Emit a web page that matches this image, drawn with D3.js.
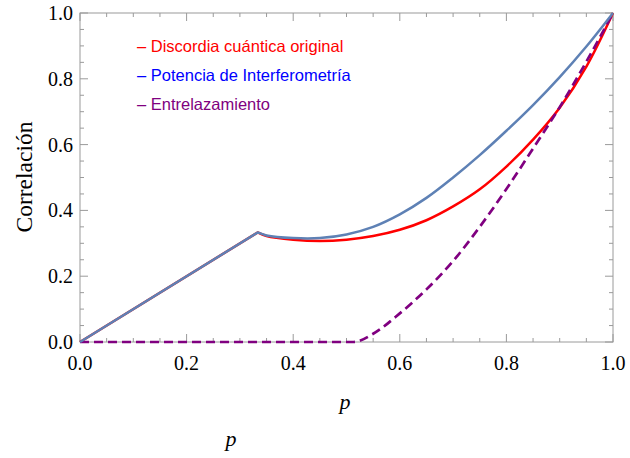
<!DOCTYPE html>
<html>
<head>
<meta charset="utf-8">
<script src="https://cdn.jsdelivr.net/npm/d3@7"></script>
<style>
body { margin: 0; background: #fff; }
</style>
</head>
<body>
<script>
// values
// the first two points (0 and 1/3) are the straight part, the rest the curve after the kink
const pVals = [0, 1/3, 0.35, 0.40, 0.45, 0.50, 0.55, 0.60, 0.65, 0.70, 0.75, 0.80, 0.85, 0.90, 0.95, 1.0];
const discordia = [0, 0.333, 0.322, 0.311, 0.307, 0.311, 0.322, 0.341, 0.370, 0.412, 0.464, 0.533, 0.615, 0.712, 0.837, 1.0];
const potencia = [0, 0.333, 0.324, 0.316, 0.316, 0.327, 0.350, 0.388, 0.438, 0.500, 0.568, 0.642, 0.720, 0.805, 0.898, 1.0];
const pEnt = [0, 0.513, 0.55, 0.60, 0.65, 0.70, 0.75, 0.80, 0.85, 0.90, 0.95, 1.0];
const entrelaz = [0, 0, 0.025, 0.087, 0.160, 0.246, 0.350, 0.465, 0.588, 0.714, 0.852, 1.0];
const xTicks = [0, 0.2, 0.4, 0.6, 0.8, 1.0];
const yTicks = [0, 0.2, 0.4, 0.6, 0.8, 1.0];
const legendLabels = ["Discordia cuántica original", "Potencia de Interferometría", "Entrelazamiento"];
const legendColors = ["#ff0000", "#0000ff", "#800080"];

const width = 630, height = 458;
const plotLeft = 80, plotRight = 613, plotTop = 13, plotBottom = 342;

const svg = d3.select("body").append("svg")
    .attr("width", width)
    .attr("height", height);

const x = d3.scaleLinear().domain([0, 1]).range([plotLeft, plotRight]);
const y = d3.scaleLinear().domain([0, 1]).range([plotBottom, plotTop]);

const minor = d3.range(0, 1.0001, 0.05).filter(v => Math.abs(v * 5 - Math.round(v * 5)) > 1e-6);
const frameColor = "#9a9a9a";

// ticks on all four sides, pointing in
function tickSet(vals, len) {
    vals.forEach(v => {
        svg.append("line").attr("x1", x(v)).attr("x2", x(v)).attr("y1", plotBottom).attr("y2", plotBottom - len);
        svg.append("line").attr("x1", x(v)).attr("x2", x(v)).attr("y1", plotTop).attr("y2", plotTop + len);
        svg.append("line").attr("y1", y(v)).attr("y2", y(v)).attr("x1", plotLeft).attr("x2", plotLeft + len);
        svg.append("line").attr("y1", y(v)).attr("y2", y(v)).attr("x1", plotRight).attr("x2", plotRight - len);
    });
}
tickSet(xTicks, 8);
tickSet(minor, 4);
svg.selectAll("line").attr("stroke", frameColor).attr("stroke-width", 1);

svg.append("rect")
    .attr("x", plotLeft).attr("y", plotTop)
    .attr("width", plotRight - plotLeft).attr("height", plotBottom - plotTop)
    .attr("fill", "none").attr("stroke", frameColor).attr("stroke-width", 1);

// tick labels
svg.selectAll(".xlab")
    .data(xTicks)
    .enter()
    .append("text")
    .attr("x", d => x(d))
    .attr("y", 370)
    .attr("text-anchor", "middle")
    .attr("font-family", "Liberation Serif, serif")
    .attr("font-size", 20)
    .text(d => d.toFixed(1));

svg.selectAll(".ylab")
    .data(yTicks)
    .enter()
    .append("text")
    .attr("x", 73)
    .attr("y", d => y(d) + 7)
    .attr("text-anchor", "end")
    .attr("font-family", "Liberation Serif, serif")
    .attr("font-size", 20)
    .text(d => d.toFixed(1));

// axis labels
svg.append("text")
    .attr("transform", "translate(32,177) rotate(-90)")
    .attr("text-anchor", "middle")
    .attr("font-family", "Liberation Serif, serif")
    .attr("font-size", 23.5)
    .text("Correlación");

svg.append("text")
    .attr("x", 345).attr("y", 409)
    .attr("text-anchor", "middle")
    .attr("font-family", "Liberation Serif, serif")
    .attr("font-style", "italic")
    .attr("font-size", 22)
    .text("p");

svg.append("text")
    .attr("x", 231).attr("y", 446)
    .attr("text-anchor", "middle")
    .attr("font-family", "Liberation Serif, serif")
    .attr("font-style", "italic")
    .attr("font-size", 22)
    .text("p");

// curves
function seg(ps, vs) {
    return ps.map((p, i) => [p, vs[i]]);
}
const straight = d3.line().x(d => x(d[0])).y(d => y(d[1]));
const smooth = d3.line().x(d => x(d[0])).y(d => y(d[1])).curve(d3.curveCatmullRom.alpha(0.5));
const mono = d3.line().x(d => x(d[0])).y(d => y(d[1])).curve(d3.curveMonotoneX);

// kinked curve: straight up to 1/3, smooth after
function kinked(vs) {
    const pts = seg(pVals, vs);
    return straight(pts.slice(0, 2)) + smooth(pts.slice(1)).replace(/^M[^C]*/, "L" + x(pts[1][0]) + "," + y(pts[1][1]));
}

svg.append("path")
    .attr("fill", "none")
    .attr("stroke", "#ff0000")
    .attr("stroke-width", 2.5)
    .attr("stroke-linejoin", "round")
    .attr("d", kinked(discordia));

svg.append("path")
    .datum(seg(pEnt, entrelaz))
    .attr("fill", "none")
    .attr("stroke", "#800080")
    .attr("stroke-width", 2.7)
    .attr("stroke-dasharray", "9,5")
    .attr("d", mono);

svg.append("path")
    .attr("fill", "none")
    .attr("stroke", "#5e81b5")
    .attr("stroke-width", 2.5)
    .attr("stroke-linejoin", "round")
    .attr("d", kinked(potencia));

// legend
svg.selectAll(".leg")
    .data(legendLabels)
    .enter()
    .append("text")
    .attr("x", 137)
    .attr("y", (d, i) => 52 + i * 29)
    .attr("font-family", "Liberation Sans, Arial, sans-serif")
    .attr("font-size", 16.5)
    .attr("fill", (d, i) => legendColors[i])
    .text(d => "– " + d);
</script>
</body>
</html>
